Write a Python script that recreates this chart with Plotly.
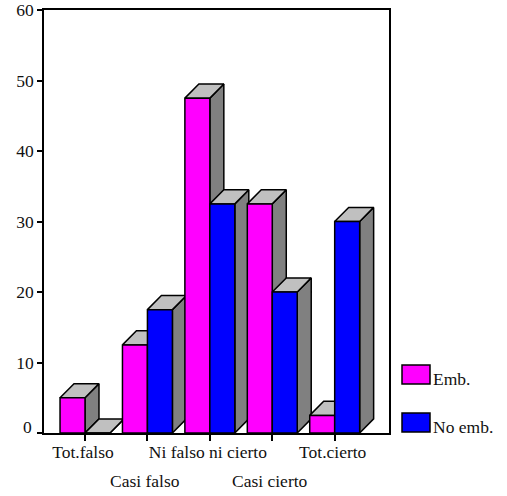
import plotly.graph_objects as go

categories = ["Tot.falso", "Casi falso", "Ni falso ni cierto", "Casi cierto", "Tot.cierto"]
emb = [5, 12.5, 47.5, 32.5, 2.5]
no_emb = [0, 17.5, 32.5, 20, 30]
series_names = ["Emb.", "No emb."]
y_ticks = [0, 10, 20, 30, 40, 50, 60]

MAGENTA = "#FF00FF"
BLUE = "#0000FF"
SIDE = "#808080"
TOP = "#C0C0C0"
FONT = dict(family="Liberation Serif", size=17.5, color="#111111")

X_RANGE = [-0.657, 4.87]
Y_RANGE = [0, 60]
BAR_W = 0.4
DEPTH_X = 0.224   # receding offset, category units
DEPTH_Y = 2.0     # receding offset, value units

fig = go.Figure()


def polygon(xs, ys, color):
    fig.add_trace(go.Scatter(
        x=xs + xs[:1], y=ys + ys[:1], mode="lines", fill="toself",
        fillcolor=color, line=dict(color="black", width=1.5),
        hoverinfo="skip", showlegend=False, xaxis="x", yaxis="y",
    ))


# Receding faces sit on the base axes; the bars on the overlay cover them.
for i in range(len(categories)):
    for left, value in ((i - BAR_W, emb[i]), (i, no_emb[i])):
        right = left + BAR_W
        polygon([right, right + DEPTH_X, right + DEPTH_X, right],
                [0, DEPTH_Y, value + DEPTH_Y, value], SIDE)
        polygon([left, right, right + DEPTH_X, left + DEPTH_X],
                [value, value, value + DEPTH_Y, value + DEPTH_Y], TOP)

positions = list(range(len(categories)))
for name, values, color in ((series_names[0], emb, MAGENTA), (series_names[1], no_emb, BLUE)):
    fig.add_trace(go.Bar(
        x=positions, y=values, name=name, marker=dict(color=color, line=dict(color="black", width=1.5)),
        xaxis="x2", yaxis="y2", showlegend=False,
    ))

# Long category names alternate between two rows under the axis.
row_one = [c if i % 2 == 0 else "" for i, c in enumerate(categories)]
annotations = [
    dict(text=c, x=i, xref="x2", y=0, yref="paper", yshift=-48, xshift=-2, showarrow=False,
         xanchor="center", yanchor="middle", font=FONT)
    for i, c in enumerate(categories) if i % 2 == 1
]
annotations.append(dict(text=str(y_ticks[0]), x=0, xref="paper", y=0, yref="paper", xshift=-10, yshift=6,
                        showarrow=False, xanchor="right", yanchor="middle", font=FONT))

# Hand-sized legend keys to the right of the plot.
shapes = []
for name, color, top, bottom in ((series_names[0], MAGENTA, 365, 384), (series_names[1], BLUE, 413, 432)):
    shapes.append(dict(type="rect", xref="paper", yref="paper",
                       x0=(402 - 44) / 345, x1=(430 - 44) / 345,
                       y0=(433 - bottom) / 423, y1=(433 - top) / 423,
                       fillcolor=color, line=dict(color="black", width=1.5)))
    annotations.append(dict(text=name, xref="paper", yref="paper", x=(431 - 44) / 345,
                            y=(433 - (top + bottom) / 2 - 4) / 423, showarrow=False,
                            xanchor="left", yanchor="middle", font=FONT))

fig.update_layout(
    width=507, height=496, margin=dict(l=44, r=118, t=10, b=63, autoexpand=False),
    paper_bgcolor="white", plot_bgcolor="white",
    barmode="group", bargap=0.2, bargroupgap=0,
    font=FONT, showlegend=False,
    xaxis=dict(range=X_RANGE, visible=False),
    yaxis=dict(range=Y_RANGE, visible=False),
    xaxis2=dict(range=X_RANGE, overlaying="x", anchor="y2", side="bottom",
                tickvals=positions, ticktext=row_one, ticks="outside", ticklen=6, tickwidth=1.5,
                tickcolor="black", showline=True, linecolor="black", linewidth=1.5, mirror=True,
                showgrid=False, zeroline=False, tickfont=FONT, tickangle=0,
                ticklabelstandoff=-4, ticklabelshift=-2),
    yaxis2=dict(range=Y_RANGE, overlaying="y", anchor="x2", side="left",
                tickvals=y_ticks, ticktext=[""] + [str(v) for v in y_ticks[1:]],
                ticks="outside", ticklen=5, tickwidth=1.5,
                tickcolor="black", showline=True, linecolor="black", linewidth=1.5, mirror=True,
                showgrid=False, zeroline=False, tickfont=FONT),
    annotations=annotations, shapes=shapes,
)

fig.write_html("out.html", config=dict(displayModeBar=False))
